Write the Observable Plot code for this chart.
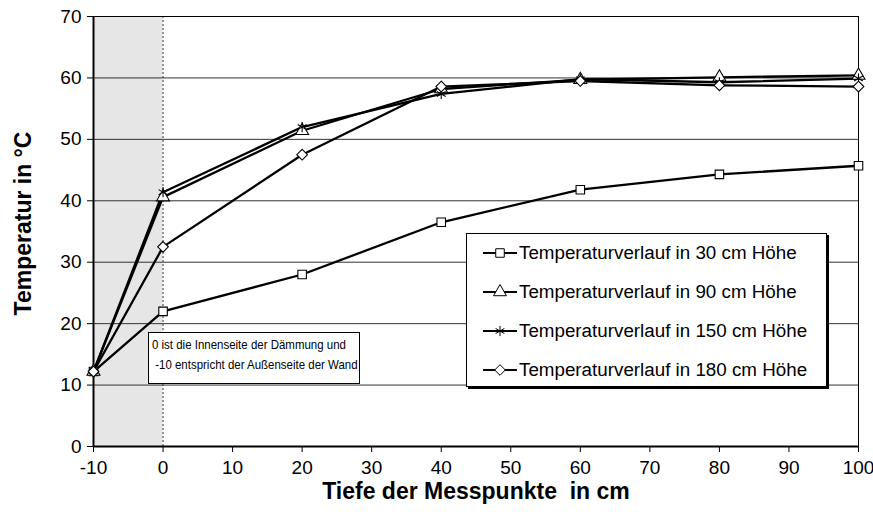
<!DOCTYPE html>
<html><head><meta charset="utf-8">
<script src="https://cdn.jsdelivr.net/npm/d3@7"></script>
<script src="https://cdn.jsdelivr.net/npm/@observablehq/plot@0.6"></script>
<style>
body{margin:0;background:#fff;font-family:"Liberation Sans",Arial,sans-serif;}
#wrap{position:relative;width:873px;height:517px;overflow:hidden;}
.legend{position:absolute;left:466px;top:233px;width:361px;height:154px;border:1px solid #000;background:#fff;box-shadow:2px 2px 0 #000;box-sizing:border-box;font-size:18.8px;color:#000;}
.legend .row{position:absolute;left:0;height:30px;display:flex;align-items:center;white-space:nowrap;}
.legend svg{margin-left:16px;margin-right:2px;}
.note{position:absolute;left:148px;top:332px;width:212px;height:52px;border:1px solid #000;background:#fff;box-sizing:border-box;color:#000;}
.note .inner{position:absolute;left:3px;top:2px;font-size:13.5px;line-height:20px;white-space:pre;transform:scaleX(0.85);transform-origin:0 0;}
</style></head>
<body><div id="wrap"></div>
<script>
const depths = [-10, 0, 20, 40, 60, 80, 100];
const t30  = [12.2, 22.0, 28.0, 36.5, 41.8, 44.3, 45.7];
const t90  = [12.2, 40.6, 51.4, 58.2, 59.7, 60.1, 60.4];
const t150 = [12.2, 41.4, 52.0, 57.4, 59.8, 59.3, 59.9];
const t180 = [12.2, 32.5, 47.5, 58.6, 59.5, 58.8, 58.6];
const seriesNames = [
  "Temperaturverlauf in 30 cm Höhe",
  "Temperaturverlauf in 90 cm Höhe",
  "Temperaturverlauf in 150 cm Höhe",
  "Temperaturverlauf in 180 cm Höhe"
];
const seriesSymbols = ["square", "triangle", "asterisk", "diamond2"];
const xTicks = [-10, 0, 10, 20, 30, 40, 50, 60, 70, 80, 90, 100];
const yTicks = [0, 10, 20, 30, 40, 50, 60, 70];
const wallZone = [-10, 0];
const xTitle = "Tiefe der Messpunkte \u00a0in cm";
const yTitle = "Temperatur in °C";
const noteLines = ["0 ist die Innenseite der Dämmung und", " -10 entspricht der Außenseite der Wand"];

const seriesValues = [t30, t90, t150, t180];
const data = [];
seriesNames.forEach((s, i) => depths.forEach((d, j) => data.push({series: s, depth: d, temp: seriesValues[i][j]})));

const chart = Plot.plot({
  width: 873, height: 517,
  marginLeft: 93, marginRight: 15, marginTop: 16, marginBottom: 71,
  style: {fontFamily: "Liberation Sans, Arial, sans-serif", fontSize: "19px", color: "#000", background: "#fff"},
  x: {domain: [xTicks[0], xTicks[xTicks.length - 1]]},
  y: {domain: [yTicks[0], yTicks[yTicks.length - 1]]},
  symbol: {domain: seriesNames, range: seriesSymbols},
  marks: [
    Plot.rect([wallZone], {x1: d => d[0], x2: d => d[1], y1: yTicks[0], y2: yTicks[yTicks.length - 1], fill: "#e6e6e6"}),
    Plot.ruleY(yTicks.slice(1, -1), {stroke: "#333", strokeWidth: 1}),
    Plot.ruleX([wallZone[1]], {stroke: "#333", strokeWidth: 1, strokeDasharray: "2,2"}),
    Plot.frame({stroke: "#000", strokeWidth: 1}),
    Plot.ruleX([xTicks[0]], {stroke: "#000", strokeWidth: 2}),
    Plot.ruleY([yTicks[0]], {stroke: "#000", strokeWidth: 2}),
    Plot.line(data, {x: "depth", y: "temp", z: "series", stroke: "#000", strokeWidth: 2.3}),
    Plot.dot(data, {x: "depth", y: "temp", symbol: "series", fill: "#fff", stroke: "#000", strokeWidth: 1.1, r: 4.8}),
    Plot.axisX({ticks: xTicks, tickSize: 6, tickPadding: 8, fontSize: 19, label: null, tickFormat: d => String(d)}),
    Plot.axisY({ticks: yTicks, tickSize: 6, tickPadding: 6, fontSize: 19, label: null, tickFormat: d => String(d)}),
    Plot.text([xTitle], {text: d => d, frameAnchor: "bottom", dy: 52, fontSize: 23, fontWeight: "bold"}),
    Plot.text([yTitle], {text: d => d, frameAnchor: "left", textAnchor: "middle", rotate: -90, dx: -70, dy: -8, fontSize: 23, fontWeight: "bold"})
  ]
});
const wrap = document.getElementById("wrap");
wrap.appendChild(chart);

// annotation box
const note = document.createElement("div");
note.className = "note";
const inner = document.createElement("div");
inner.className = "inner";
inner.textContent = noteLines.join("\n");
note.appendChild(inner);
wrap.appendChild(note);

// legend
const legend = document.createElement("div");
legend.className = "legend";
const rowCenters = [19, 58, 97, 136];
const symMap = {square: d3.symbolSquare, triangle: d3.symbolTriangle, asterisk: d3.symbolAsterisk, diamond2: d3.symbolDiamond2};
seriesNames.forEach((s, i) => {
  const row = document.createElement("div");
  row.className = "row";
  row.style.top = (rowCenters[i] - 15) + "px";
  const svg = d3.create("svg").attr("width", 34).attr("height", 20);
  svg.append("line").attr("x1", 0).attr("x2", 34).attr("y1", 10).attr("y2", 10).attr("stroke", "#000").attr("stroke-width", 2);
  svg.append("path").attr("transform", "translate(17,10)")
    .attr("d", d3.symbol(symMap[seriesSymbols[i]], Math.PI * 4.8 * 4.8)())
    .attr("fill", "#fff").attr("stroke", "#000").attr("stroke-width", 1);
  row.appendChild(svg.node());
  const span = document.createElement("span");
  span.textContent = s;
  row.appendChild(span);
  legend.appendChild(row);
});
wrap.appendChild(legend);
</script>
</body></html>
